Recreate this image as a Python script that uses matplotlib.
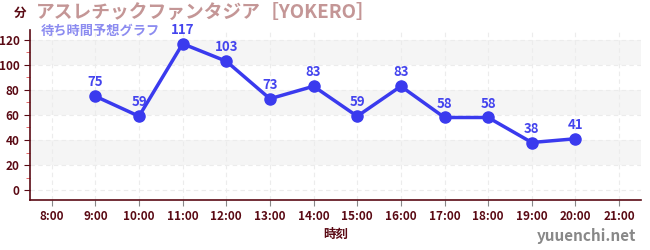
import matplotlib
matplotlib.use("Agg")
import matplotlib.pyplot as plt
from matplotlib.ticker import MultipleLocator

plt.rcParams['font.family'] = ['Noto Sans CJK JP', 'DejaVu Sans']

hours = [9, 10, 11, 12, 13, 14, 15, 16, 17, 18, 19, 20]
waits = [75, 59, 117, 103, 73, 83, 59, 83, 58, 58, 38, 41]
tick_hours = list(range(8, 22))
tick_labels = [f"{h}:00" for h in tick_hours]

axis_color = "#5a0a14"
line_color = "#3a3aee"

fig = plt.figure(figsize=(6.5, 2.5), dpi=100)
ax = fig.add_axes([0.046, 0.2, 0.94, 0.68])

ax.set_xlim(7.5, 21.5)
ax.set_ylim(-8, 128)

# background bands
for lo in (20, 60, 100):
    ax.axhspan(lo, lo + 20, color="#f5f5f5", zorder=0, lw=0)

ax.set_xticks(tick_hours)
ax.set_xticklabels(tick_labels)
ax.set_yticks(range(0, 121, 20))
ax.yaxis.set_minor_locator(MultipleLocator(10))
ax.grid(True, which="major", color="#ececec", linestyle=(0, (4, 3)), lw=0.8, zorder=1)

ax.plot(hours, waits, color=line_color, lw=2.5, marker="o", ms=8, zorder=3)
for h, w in zip(hours, waits):
    ax.annotate(str(w), (h, w), xytext=(0, 5), textcoords="offset points",
                ha="center", va="bottom", color="#4444ee", fontsize=9.5, fontweight="bold")

for s in ("top", "right"):
    ax.spines[s].set_visible(False)
for s in ("left", "bottom"):
    ax.spines[s].set_color(axis_color)
    ax.spines[s].set_linewidth(1.2)

ax.tick_params(axis="both", which="major", colors=axis_color, labelsize=8.5, length=4)
ax.tick_params(axis="x", which="major", color="#888888")
ax.tick_params(axis="y", which="minor", color="#e05050", length=3)
for lab in ax.get_xticklabels() + ax.get_yticklabels():
    lab.set_fontweight("bold")

ax.set_xlabel("時刻", color=axis_color, fontsize=9, fontweight="bold", labelpad=3)

fig.text(0.022, 0.945, "分", color=axis_color, fontsize=9, fontweight="bold", va="center")
fig.text(0.056, 0.952, "アスレチックファンタジア［YOKERO］", color="#c49696",
         fontsize=13.5, fontweight="bold", va="center")
fig.text(0.062, 0.875, "待ち時間予想グラフ", color="#8c8cf0", fontsize=9.5,
         fontweight="bold", va="center")
fig.text(0.978, 0.055, "yuuenchi.net", color="#888888", fontsize=11,
         fontweight="bold", ha="right", va="center")

fig.savefig("out.png", dpi=100)
